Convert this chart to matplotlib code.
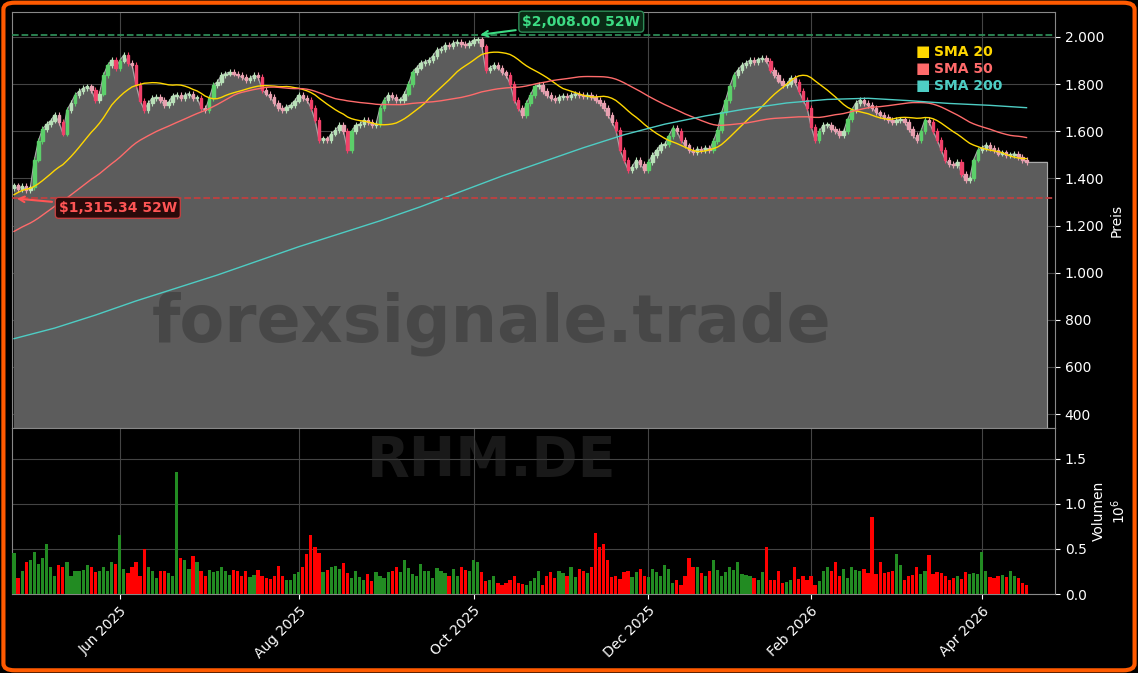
import numpy as np
import pandas as pd
import matplotlib
matplotlib.use("Agg")
import matplotlib.pyplot as plt
from matplotlib.patches import FancyBboxPatch
from matplotlib.ticker import FuncFormatter

# Daily closes (EUR)
close = [
    1370, 1355, 1368, 1350, 1362, 1480, 1560, 1610, 1630, 1645,
    1670, 1640, 1590, 1690, 1720, 1754, 1770, 1783, 1790, 1775,
    1733, 1760, 1838, 1880, 1902, 1868, 1900, 1924, 1890, 1881,
    1796, 1730, 1690, 1720, 1741, 1745, 1733, 1710, 1724, 1750,
    1754, 1740, 1754, 1760, 1741, 1741, 1700, 1690, 1740, 1796,
    1810, 1838, 1845, 1851, 1845, 1838, 1830, 1817, 1825, 1838,
    1830, 1775, 1760, 1745, 1720, 1700, 1690, 1705, 1711, 1730,
    1754, 1740, 1733, 1700, 1648, 1563, 1570, 1563, 1590, 1605,
    1626, 1600, 1520, 1600, 1626, 1630, 1648, 1640, 1626, 1630,
    1700, 1733, 1754, 1745, 1733, 1733, 1760, 1800, 1851, 1870,
    1890, 1895, 1902, 1920, 1945, 1950, 1966, 1960, 1975, 1979,
    1970, 1966, 1975, 1987, 1990, 1960, 1860, 1870, 1881, 1870,
    1850, 1838, 1800, 1733, 1700, 1670, 1720, 1754, 1790, 1796,
    1770, 1754, 1740, 1733, 1745, 1750, 1745, 1754, 1760, 1754,
    1750, 1754, 1745, 1733, 1720, 1700, 1670, 1640, 1605, 1520,
    1478, 1436, 1450, 1478, 1460, 1436, 1470, 1499, 1520, 1542,
    1545, 1580, 1614, 1600, 1563, 1540, 1520, 1510, 1525, 1520,
    1530, 1520, 1560, 1605, 1680, 1733, 1790, 1838, 1860, 1881,
    1890, 1902, 1895, 1905, 1911, 1900, 1860, 1838, 1815, 1796,
    1800, 1826, 1810, 1770, 1733, 1700, 1620, 1563, 1600, 1626,
    1626, 1610, 1600, 1584, 1600, 1650, 1690, 1720, 1733, 1720,
    1711, 1700, 1680, 1670, 1660, 1648, 1640, 1648, 1650, 1640,
    1610, 1584, 1563, 1600, 1648, 1640, 1600, 1563, 1520, 1478,
    1460, 1457, 1470, 1420, 1393, 1400, 1480, 1520, 1530, 1542,
    1530, 1520, 1505, 1510, 1499, 1500, 1505, 1490, 1478, 1470,
]

# Closes before the window (needed for the 20/50 day averages)
pre_close = [
    880, 900, 930, 950, 980, 1000, 990, 1010, 1040, 1030,
    1020, 1050, 1080, 1070, 1090, 1110, 1120, 1100, 1140, 1160,
    1150, 1130, 1170, 1200, 1220, 1180, 1140, 1100, 1080, 1120,
    1160, 1200, 1250, 1280, 1310, 1340, 1350, 1345, 1360, 1365,
    1380, 1370, 1360, 1365, 1370, 1360, 1355, 1365, 1360,
]

# Daily volume (thousands of shares)
volume = [
    450, 180, 250, 360, 380, 470, 330, 400, 550, 300,
    200, 320, 300, 360, 200, 260, 250, 270, 320, 300,
    240, 260, 300, 250, 350, 330, 650, 280, 230, 300,
    350, 200, 500, 300, 260, 180, 250, 260, 230, 200,
    1350, 400, 380, 280, 420, 350, 250, 200, 270, 240,
    250, 300, 260, 210, 270, 250, 200, 250, 190, 210,
    270, 200, 180, 170, 200, 310, 200, 160, 150, 220,
    240, 300, 440, 650, 520, 460, 240, 270, 300, 310,
    280, 340, 230, 180, 250, 190, 160, 220, 140, 240,
    200, 180, 240, 260, 300, 240, 380, 290, 220, 200,
    330, 250, 260, 180, 290, 250, 230, 200, 280, 200,
    300, 270, 250, 380, 350, 240, 140, 150, 200, 120,
    100, 120, 160, 200, 120, 110, 100, 140, 180, 250,
    100, 200, 240, 180, 250, 230, 200, 300, 190, 280,
    250, 230, 300, 680, 520, 550, 380, 190, 200, 170,
    240, 260, 190, 240, 280, 200, 190, 280, 240, 200,
    320, 280, 120, 150, 100, 200, 400, 300, 300, 230,
    200, 250, 380, 270, 200, 240, 300, 270, 360, 220,
    210, 200, 180, 150, 240, 520, 160, 150, 250, 120,
    130, 160, 300, 170, 200, 160, 200, 100, 140, 250,
    300, 260, 360, 200, 280, 180, 300, 270, 260, 280,
    230, 850, 220, 360, 230, 240, 260, 440, 320, 160,
    200, 210, 300, 220, 260, 430, 220, 240, 230, 200,
    160, 180, 200, 170, 240, 220, 230, 220, 470, 250,
    190, 180, 200, 210, 190, 250, 200, 180, 120, 100,
]

# SMA 200 read every 10 trading days
sma200_idx = [0, 10, 20, 30, 40, 50, 60, 70, 80, 90, 100, 110, 120, 130,
              140, 150, 160, 170, 180, 190, 200, 210, 220, 230, 240, 249]
sma200_val = [720, 765, 820, 880, 935, 990, 1050, 1110, 1165, 1220, 1280,
              1345, 1410, 1470, 1530, 1585, 1630, 1665, 1695, 1720, 1735,
              1740, 1730, 1718, 1710, 1700]

high_52w = 2008.00
low_52w = 1315.34
month_ticks = ["2025-06-01", "2025-08-01", "2025-10-01", "2025-12-01", "2026-02-01", "2026-04-01"]

# dates: XETRA trading days
holidays = pd.to_datetime(["2025-05-01", "2025-12-24", "2025-12-25", "2025-12-26",
                           "2025-12-31", "2026-01-01", "2026-04-03", "2026-04-06"])
dates = pd.bdate_range("2025-04-24", "2026-04-30")
dates = dates[~dates.isin(holidays)][:len(close)]

c = np.array(close, float)
allc = pd.Series(list(pre_close) + list(close), dtype=float)
sma20 = allc.rolling(20, min_periods=1).mean().values[len(pre_close):]
sma50 = allc.rolling(50, min_periods=1).mean().values[len(pre_close):]
o = np.concatenate([[pre_close[-1]], c[:-1]])
x = np.arange(len(c))
up = c >= o

BG = "black"
fig = plt.figure(figsize=(11.38, 6.73), dpi=100, facecolor=BG)
W, H = 1138, 673
ax = fig.add_axes([12 / W, 1 - 428 / H, (1055 - 12) / W, (428 - 12) / H])
axv = fig.add_axes([12 / W, 1 - 594 / H, (1055 - 12) / W, (594 - 428) / H], sharex=ax)
fig.patches.append(FancyBboxPatch((0.003, 0.004), 0.994, 0.992, boxstyle="round,pad=0,rounding_size=0.01",
                                  transform=fig.transFigure, fill=False, ec="#ff5a00", lw=3))

for a in (ax, axv):
    a.set_facecolor(BG)
    a.grid(True, color="#444444", lw=0.8)
    a.set_axisbelow(True)
    for s in a.spines.values():
        s.set_color("#888888")
    a.yaxis.tick_right()
    a.yaxis.set_label_position("right")
    a.tick_params(colors="white", labelsize=10)

ylo = 341
# price area
xa = np.append(x, x[-1] + 5)
ca = np.append(c, c[-1])
ax.fill_between(xa, ylo, ca, color="#5c5c5c", zorder=1)
ax.plot(x, c, color="#aaaaaa", lw=0.8, zorder=2)
ax.plot([xa[-2], xa[-1], xa[-1]], [c[-1], c[-1], ylo], color="#aaaaaa", lw=0.8, zorder=2)

# candles
for i in x:
    lo, hi = sorted((o[i], c[i]))
    big = hi - lo > 30
    col = ("#5ccf6a" if big else "#b8e0b8") if up[i] else ("#f0426a" if big else "#e8a0b0")
    ax.vlines(i, lo - 12, hi + 12, color=col, lw=0.8, zorder=3)
    ax.add_patch(plt.Rectangle((i - 0.3, lo), 0.6, max(hi - lo, 4), color=col, zorder=3))

ax.plot(x, sma20, color="#ffd700", lw=1.0, zorder=4)
ax.plot(x, sma50, color="#ff6b6b", lw=1.0, zorder=4)
ax.plot(sma200_idx, sma200_val, color="#4ecdc4", lw=1.0, zorder=4)

ax.axhline(high_52w, color="#2e8b57", ls="--", lw=1.3, zorder=4)
ax.axhline(low_52w, color="#c04040", ls="--", lw=1.3, zorder=4)
ih = int(np.argmax(c))
ax.annotate(f"${high_52w:,.2f} 52W", xy=(ih, high_52w), xytext=(ih + 11, 2065),
            color="#3ddc84", fontsize=10, fontweight="bold", va="center",
            bbox=dict(boxstyle="round,pad=0.25", fc="#0a2a15", ec="#2e8b57"),
            arrowprops=dict(arrowstyle="->", color="#3ddc84", lw=1.5), zorder=6)
ax.annotate(f"${low_52w:,.2f} 52W", xy=(0, low_52w), xytext=(11, 1275),
            color="#ff5555", fontsize=10, fontweight="bold", va="center",
            bbox=dict(boxstyle="round,pad=0.25", fc="#2a0a0a", ec="#c04040"),
            arrowprops=dict(arrowstyle="->", color="#ff5555", lw=1.5), zorder=6)

for k, (lab, col) in enumerate([("SMA 20", "#ffd700"), ("SMA 50", "#ff6b6b"), ("SMA 200", "#4ecdc4")]):
    yy = 0.905 - k * 0.041
    ax.text(0.866, yy, "\u25a0", color=col, transform=ax.transAxes, fontsize=11, va="center")
    ax.text(0.884, yy, lab, color=col, transform=ax.transAxes, fontsize=10, fontweight="bold", va="center")

ax.text(0.46, 0.25, "forexsignale.trade", transform=ax.transAxes, ha="center", va="center",
        fontsize=47, fontweight="bold", color="#333333", alpha=0.5, zorder=2)
ax.set_ylim(ylo, 2106)
ax.set_yticks(range(400, 2001, 200))
ax.yaxis.set_major_formatter(FuncFormatter(lambda v, p: f"{v:,.0f}".replace(",", ".")))
ax.set_ylabel("Preis", color="white", fontsize=10)
plt.setp(ax.get_xticklabels(), visible=False)
ax.tick_params(axis="x", length=0)

vcol = np.where(up, "#228b22", "#ff0000")
axv.bar(x, np.array(volume) / 1e3, width=0.8, color=vcol, zorder=3)
axv.text(0.46, 0.8, "RHM.DE", transform=axv.transAxes, ha="center", va="center",
         fontsize=40, fontweight="bold", color="#333333", alpha=0.5, zorder=2)
axv.set_ylim(0, 1.84)
axv.set_yticks([0, 0.5, 1.0, 1.5])
axv.yaxis.set_major_formatter(FuncFormatter(lambda v, p: f"{v:.1f}"))
axv.set_ylabel("Volumen\n$10^6$", color="white", fontsize=10)

tick_pos = [int(np.searchsorted(dates, pd.Timestamp(m))) for m in month_ticks]
axv.set_xticks(tick_pos)
axv.set_xticklabels([pd.Timestamp(m).strftime("%b %Y") for m in month_ticks], rotation=45, ha="right",
                    rotation_mode="anchor")
axv.set_xlim(-0.5, len(c) + 6)

fig.savefig("out.png", dpi=100, facecolor=BG)
